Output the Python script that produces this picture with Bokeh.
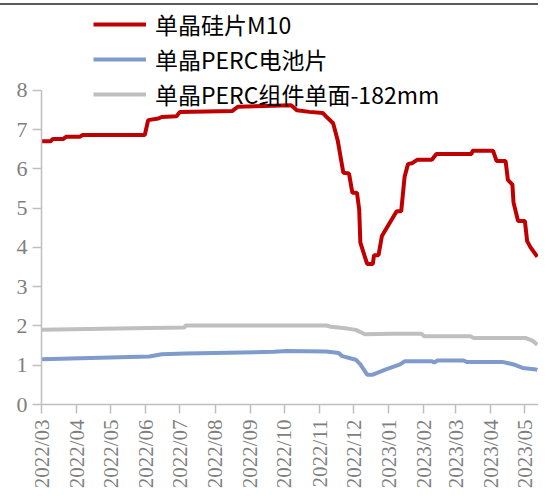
import math
import pandas as pd
from bokeh.plotting import figure
from bokeh.models import Range1d, FixedTicker, DatetimeTickFormatter, Legend, LegendItem, Div
from bokeh.layouts import column
from bokeh.embed import file_html
from bokeh.resources import INLINE

# ---------------- data ----------------
series_names = ["单晶硅片M10", "单晶PERC电池片", "单晶PERC组件单面-182mm"]

wafer_dates = ["2022-03-01", "2022-03-09", "2022-03-11", "2022-03-20", "2022-03-23", "2022-04-04",
               "2022-04-06", "2022-05-31", "2022-06-03", "2022-06-12", "2022-06-15", "2022-06-28",
               "2022-07-01", "2022-08-16", "2022-08-21", "2022-10-07", "2022-10-12", "2022-10-23",
               "2022-11-04", "2022-11-07", "2022-11-13", "2022-11-17", "2022-11-22", "2022-11-27",
               "2022-11-30", "2022-12-04", "2022-12-06", "2022-12-07", "2022-12-13", "2022-12-18",
               "2022-12-19", "2022-12-23", "2022-12-26", "2023-01-08", "2023-01-12", "2023-01-15",
               "2023-01-18", "2023-01-22", "2023-01-26", "2023-02-08", "2023-02-12", "2023-03-15",
               "2023-03-16", "2023-04-03", "2023-04-06", "2023-04-14", "2023-04-16", "2023-04-20",
               "2023-04-21", "2023-04-25", "2023-05-01", "2023-05-03", "2023-05-06", "2023-05-12"]
wafer_vals = [6.70, 6.70, 6.76, 6.76, 6.82, 6.82,
              6.86, 6.86, 7.24, 7.28, 7.32, 7.34,
              7.45, 7.47, 7.58, 7.62, 7.49, 7.45,
              7.42, 7.33, 7.16, 6.73, 5.90, 5.88,
              5.39, 5.39, 4.96, 4.12, 3.58, 3.58,
              3.80, 3.80, 4.29, 4.92, 4.92, 5.80,
              6.12, 6.15, 6.23, 6.23, 6.38, 6.38,
              6.46, 6.46, 6.20, 6.20, 5.72, 5.60,
              5.14, 4.67, 4.67, 4.16, 4.00, 3.76]

cell_dates = ["2022-03-01", "2022-06-04", "2022-06-15", "2022-07-06", "2022-09-22", "2022-10-03",
              "2022-11-07", "2022-11-18", "2022-11-21", "2022-12-03", "2022-12-07", "2022-12-13",
              "2022-12-18", "2022-12-29", "2023-01-11", "2023-01-15", "2023-02-08", "2023-02-10",
              "2023-02-13", "2023-03-08", "2023-03-11", "2023-04-12", "2023-04-21", "2023-04-29",
              "2023-05-11", "2023-05-12"]
cell_vals = [1.15, 1.22, 1.28, 1.30, 1.34, 1.36,
             1.35, 1.31, 1.23, 1.14, 1.02, 0.76,
             0.76, 0.89, 1.02, 1.10, 1.10, 1.07,
             1.12, 1.12, 1.08, 1.08, 1.02, 0.93,
             0.89, 0.88]

module_dates = ["2022-03-01", "2022-06-04", "2022-07-05", "2022-07-06", "2022-11-07", "2022-11-11",
                "2022-11-22", "2022-12-03", "2022-12-11", "2023-01-04", "2023-01-30", "2023-02-01",
                "2023-03-14", "2023-03-17", "2023-05-02", "2023-05-08", "2023-05-12"]
module_vals = [1.90, 1.95, 1.96, 2.01, 2.01, 1.98,
               1.95, 1.90, 1.79, 1.80, 1.80, 1.74,
               1.74, 1.69, 1.69, 1.62, 1.52]

tick_months = ["2022/03", "2022/04", "2022/05", "2022/06", "2022/07", "2022/08", "2022/09",
               "2022/10", "2022/11", "2022/12", "2023/01", "2023/02", "2023/03", "2023/04", "2023/05"]
y_ticks = [0, 1, 2, 3, 4, 5, 6, 7, 8]

colors = ["#C00000", "#7F9BCB", "#BFBFBF"]

# ---------------- figure ----------------
x_start = pd.Timestamp("2022-03-01")
x_end = pd.Timestamp("2023-05-13")

p = figure(width=538, height=485, x_axis_type="datetime",
           x_range=Range1d(x_start, x_end), y_range=Range1d(0, 10.133),
           output_backend="svg", toolbar_location=None,
           min_border_left=41, min_border_right=0, min_border_top=0, min_border_bottom=0)
p.outline_line_color = None
p.xgrid.visible = False
p.ygrid.visible = False
p.background_fill_color = "white"
p.border_fill_color = "white"

r_wafer = p.line(pd.to_datetime(wafer_dates), wafer_vals, line_color=colors[0], line_width=4)
r_cell = p.line(pd.to_datetime(cell_dates), cell_vals, line_color=colors[1], line_width=4)
r_module = p.line(pd.to_datetime(module_dates), module_vals, line_color=colors[2], line_width=4)

tick_ms = [pd.to_datetime(m, format="%Y/%m").timestamp() * 1000 for m in tick_months]
p.xaxis.ticker = FixedTicker(ticks=tick_ms)
fmt = "%Y/%m"
p.xaxis.formatter = DatetimeTickFormatter(microseconds=fmt, milliseconds=fmt, seconds=fmt,
                                          minsec=fmt, minutes=fmt, hourmin=fmt, hours=fmt,
                                          days=fmt, months=fmt, years=fmt,
                                          strip_leading_zeros=False)
p.yaxis.ticker = FixedTicker(ticks=y_ticks)
p.yaxis.bounds = (0, 8)

for ax in (p.xaxis[0], p.yaxis[0]):
    ax.axis_line_color = "#BFBFBF"
    ax.axis_line_width = 1.5
    ax.major_tick_line_color = "#BFBFBF"
    ax.major_tick_line_width = 1.5
    ax.major_tick_out = 9
    ax.major_tick_in = 0
    ax.minor_tick_line_color = None
    ax.major_label_text_font = "Liberation Serif"
    ax.major_label_text_color = "#7F7F7F"

p.yaxis.major_label_text_font_size = "22px"
p.yaxis.major_label_standoff = 5
p.xaxis.major_label_text_font_size = "21px"
p.xaxis.major_label_orientation = math.pi / 2
p.xaxis.major_label_standoff = 6

legend = Legend(items=[LegendItem(label=series_names[0], renderers=[r_wafer]),
                       LegendItem(label=series_names[1], renderers=[r_cell]),
                       LegendItem(label=series_names[2], renderers=[r_module])],
                location=(52, 293), orientation="vertical")
legend.label_text_font = "Noto Sans CJK SC"
legend.label_text_font_size = "23px"
legend.label_text_color = "#000000"
legend.glyph_width = 53
legend.glyph_height = 26
legend.label_height = 26
legend.label_standoff = 9
legend.spacing = 1
legend.padding = 0
legend.margin = 0
legend.border_line_color = None
legend.background_fill_alpha = 0
p.add_layout(legend, "center")

top_rule = Div(width=538, height=2, margin=(3, 0, 1, 0), styles={"background-color": "#595959"})
layout = column(top_rule, p, spacing=0)

open("out.html", "w").write(file_html(layout, INLINE))
